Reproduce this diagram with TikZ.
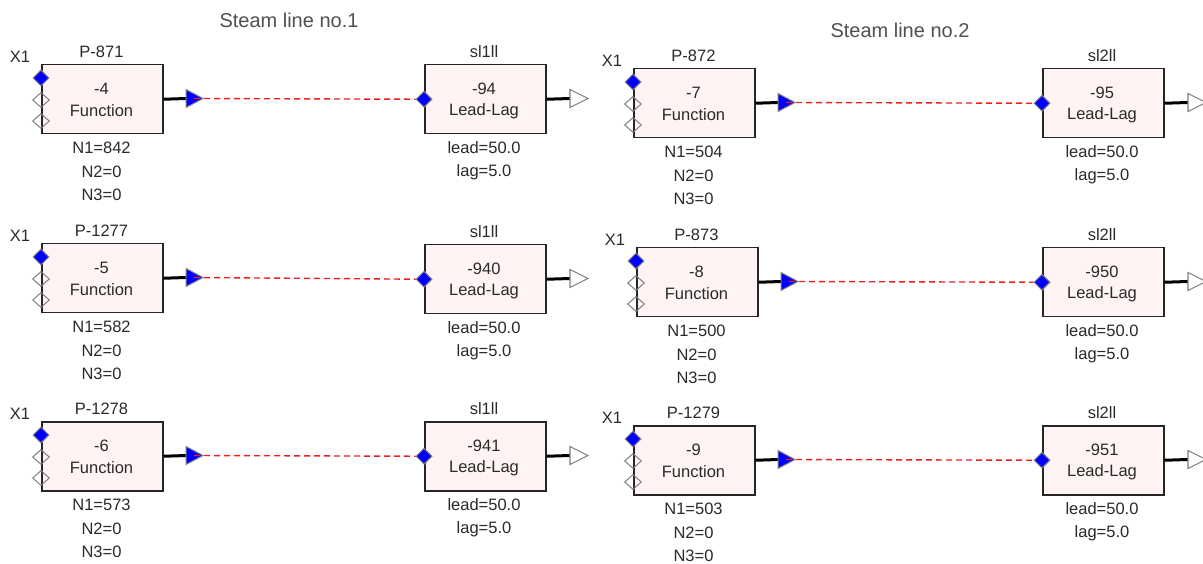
\documentclass[tikz,border=0pt]{standalone}
\usepackage{fontspec}
\setmainfont{Liberation Sans}
\usetikzlibrary{shapes.geometric}
\definecolor{txt}{HTML}{2A2A2A}
\definecolor{ttlc}{HTML}{505050}
\definecolor{boxfill}{HTML}{FFF3F3}
\definecolor{portgray}{HTML}{808080}
\definecolor{sigred}{HTML}{F01E1E}
\tikzset{
  blk/.style={draw=black!85, line width=1.5pt, fill=boxfill, minimum width=121pt,
    minimum height=69pt, inner sep=0pt, anchor=north west},
  lbl/.style={text=txt, font=\fontsize{16.5}{19}\selectfont, inner sep=0pt},
  ttl/.style={text=ttlc, font=\fontsize{20}{24}\selectfont, inner sep=0pt},
  inport/.style={diamond, draw=portgray, fill=blue, inner sep=0pt,
    minimum width=16pt, minimum height=16pt, line width=1pt},
  freeport/.style={diamond, draw=portgray, inner sep=0pt,
    minimum width=17pt, minimum height=15pt, line width=1pt},
  outwire/.style={line width=3pt, black},
  sig/.style={sigred, line width=1.4pt, dash pattern=on 6pt off 4pt},
  outtri/.style={draw=portgray, fill=blue, line width=1pt},
  endtri/.style={draw=portgray, fill=white, line width=1.1pt},
}
% #1 id, #2 left x, #3 top y, #4 title, #5 number, #6 N1 value
\newcommand{\FnBlk}[6]{%
  \node[blk] (#1) at (#2,#3) {};
  \node[lbl] (#1x) at (#2-21,#3-7) {X1};
  \node[lbl] (#1t) at (#2+60.5,#3-12) {#4};
  \node[lbl] (#1a) at (#2+60.5,#3+25) {#5};
  \node[lbl] (#1b) at (#2+60.5,#3+47) {Function};
  \node[lbl] (#1n1) at (#2+60.5,#3+84) {N1=#6};
  \node[lbl] (#1n2) at (#2+60.5,#3+108) {N2=0};
  \node[lbl] (#1n3) at (#2+60.5,#3+131) {N3=0};
  \node[inport] (#1p1) at (#2,#3+14) {};
  \node[freeport] (#1p2) at (#2,#3+36) {};
  \node[freeport] (#1p3) at (#2,#3+57) {};
  \coordinate (#1tb) at (#2+145,#3+34.5);
  \coordinate (#1o) at (#2+153,#3+34.5);
  \draw[outwire] (#1.east) -- (#1tb);
  \draw[outtri] (#1tb) ++(0,-9) -- ++(17,9) -- ++(-17,9) -- cycle;
}
% #1 id, #2 left x, #3 top y, #4 title, #5 number
\newcommand{\LLBlk}[5]{%
  \node[blk] (#1) at (#2,#3) {};
  \node[lbl] (#1t) at (#2+60,#3-12) {#4};
  \node[lbl] (#1a) at (#2+60,#3+25) {#5};
  \node[lbl] (#1b) at (#2+60,#3+47) {Lead-Lag};
  \node[lbl] (#1n1) at (#2+60,#3+84) {lead=50.0};
  \node[lbl] (#1n2) at (#2+60,#3+108) {lag=5.0};
  \node[inport] (#1in) at (#1.west) {};
  \coordinate (#1ob) at (#2+146,#3+34.5);
  \draw[outwire] (#1.east) -- (#1ob);
  \draw[endtri] (#1ob) ++(0,-9) -- ++(18,9) -- ++(-18,9) -- cycle;
}
\begin{document}
\begin{tikzpicture}[x=1pt,y=-1pt]
  \useasboundingbox (0,0) rectangle (1203,564);
  \fill[white] (0,0) rectangle (1203,564);
  \node[ttl] (h1) at (289,20) {Steam line no.1};
  \node[ttl] (h2) at (900,30) {Steam line no.2};
  % steam line 1
  \FnBlk{fa}{41}{64}{P-871}{-4}{842}
  \FnBlk{fb}{41}{243}{P-1277}{-5}{582}
  \FnBlk{fc}{41}{421}{P-1278}{-6}{573}
  \LLBlk{la}{424}{64}{sl1ll}{-94}
  \LLBlk{lb}{424}{244}{sl1ll}{-940}
  \LLBlk{lc}{424}{421}{sl1ll}{-941}
  % steam line 2
  \FnBlk{fd}{633}{68}{P-872}{-7}{504}
  \FnBlk{fe}{636}{247}{P-873}{-8}{500}
  \FnBlk{ff}{633}{425}{P-1279}{-9}{503}
  \LLBlk{ld}{1042}{68}{sl2ll}{-95}
  \LLBlk{le}{1042}{247}{sl2ll}{-950}
  \LLBlk{lf}{1042}{425}{sl2ll}{-951}
  % signals
  \draw[sig] (fao) -- (lain);
  \draw[sig] (fbo) -- (lbin);
  \draw[sig] (fco) -- (lcin);
  \draw[sig] (fdo) -- (ldin);
  \draw[sig] (feo) -- (lein);
  \draw[sig] (ffo) -- (lfin);
\end{tikzpicture}
\end{document}
